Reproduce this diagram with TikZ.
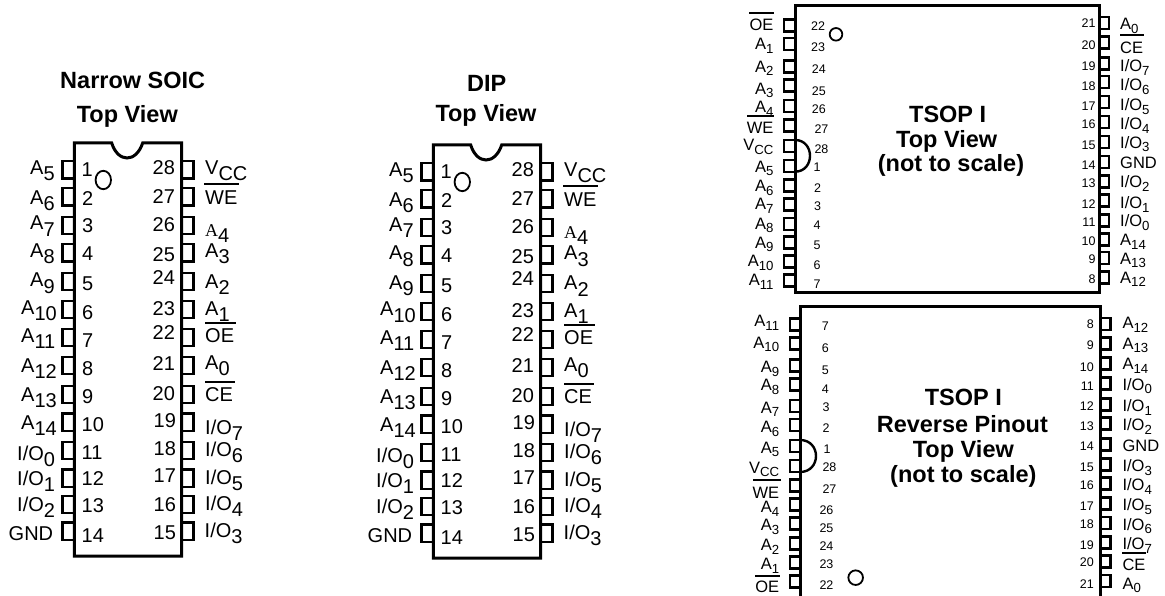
\documentclass[tikz,border=0pt]{standalone}
\usepackage{fontspec}
\setmainfont{Liberation Sans}
\newfontfamily\serifa{Liberation Serif}
\newcommand\IO{I/O}
\newcommand\lsub[1]{\raisebox{-6pt}{#1}}
\newcommand\ssub[1]{\raisebox{-3.4pt}{\fontsize{13.2}{14}\selectfont #1}}
\tikzset{
  body/.style={draw=black,line width=3pt,line join=miter},
  pinbox/.style={draw=black,line width=2.4pt},
  bar/.style={draw=black,line width=2pt},
  mark hole/.style={draw=black,line width=1.8pt},
  bigtxt/.style={inner sep=0pt,anchor=base west,font=\fontsize{20}{22}\selectfont,text=black},
  smalltxt/.style={inner sep=0pt,font=\fontsize{16.5}{18}\selectfont,text=black},
  numtxt/.style={inner sep=0pt,font=\fontsize{12.5}{14}\selectfont,text=black},
  titletxt/.style={inner sep=0pt,anchor=base,font=\bfseries\fontsize{23.5}{26}\selectfont},
}
\newcommand\chipdraw{%
  \draw[body] (74.3,143) -- (111.7,143) .. controls (118,163) and (136,163) .. (142.7,143) -- (181.5,143) -- (181.5,556) -- (74.3,556) -- cycle;
  \foreach \y in {170,197,225.5,253,281.5,309.5,337.5,365.5,394.5,422,450.5,478,504.5,531}{
    \draw[pinbox] (74,\y-8.7) -- (62.5,\y-8.7) -- (62.5,\y+8.7) -- (74,\y+8.7);
    \draw[pinbox] (181.5,\y-8.7) -- (193.5,\y-8.7) -- (193.5,\y+8.7) -- (181.5,\y+8.7);
  }
  \draw[mark hole] (103.3,180) ellipse [x radius=7.7pt,y radius=9.2pt];
  \foreach \x/\y/\t [count=\c] in {
    81.5/176.7/1,82/205.7/2,82/232.3/3,82/260.7/4,82/290.7/5,82/319/6,82/347.3/7,82/375.7/8,82/403.3/9,
    81.5/431/10,81.5/459/11,81.5/485/12,81.5/512.3/13,81.5/542.3/14,
    152.5/175/28,152.5/204/27,152.5/231.7/26,152.5/261.7/25,152.5/284/24,152.5/315/23,152.5/339.5/22,
    152.5/370.7/21,152.5/400/20,153.5/427.7/19,153.5/455/18,153.5/482.3/17,153.5/511.7/16,153.5/539.3/15}
    \node[bigtxt] (n\c) at (\x,\y) {\t};
  \foreach \x/\y/\t [count=\c] in {
    30/175/A\lsub{5},30/205/A\lsub{6},30/230/A\lsub{7},30/258/A\lsub{8},30/287/A\lsub{9},
    21/314/A\lsub{10},21/342.7/A\lsub{11},21/372/A\lsub{12},21/401/A\lsub{13},21/429/A\lsub{14},
    17/460.7/\IO\lsub{0},17/485/\IO\lsub{1},17/511.7/\IO\lsub{2},8.5/540/GND,
    205/175/V\lsub{CC},205/204.3/WE,205/236.7/{{\serifa\fontsize{18}{20}\selectfont A}\lsub{4}},205/258/A\lsub{3},205/288/A\lsub{2},205/315/A\lsub{1},
    205/342.7/OE,205/369.3/A\lsub{0},205/401/CE,205/434/\IO\lsub{7},205/456.7/\IO\lsub{6},205/484/\IO\lsub{5},205/510.7/\IO\lsub{4},204.5/537.3/\IO\lsub{3}}
    \node[bigtxt] (p\c) at (\x,\y) {\t};
  \draw[bar] (204,184) -- (239,184);
  \draw[bar] (205,322.7) -- (236,322.7);
  \draw[bar] (205,381.7) -- (235,381.7);
}
\begin{document}
\begin{tikzpicture}[x=1pt,y=-1pt]
\useasboundingbox (0,0) rectangle (1165,596);
% Narrow SOIC
\begin{scope}[name prefix=soic-]
  \node[titletxt] (t1) at (132.7,88.3) {Narrow SOIC};
  \node[titletxt] (t2) at (127.3,122.3) {Top View};
  \chipdraw
\end{scope}
% DIP
\begin{scope}[shift={(359,2)},name prefix=dip-]
  \node[titletxt] (t1) at (127.7,89.7) {DIP};
  \node[titletxt] (t2) at (127,120) {Top View};
  \chipdraw
\end{scope}
% TSOP I
\begin{scope}[shift={(720,0)},x=0.33333pt,y=-0.33333pt,name prefix=ta-]
  \draw[body] (225,17) rectangle (1137,878);
  \foreach \y in {77,132,199,256,318,376,438,498,556,613,672,727,784,841}
    \draw[pinbox] (225,\y-18) -- (192,\y-18) -- (192,\y+18) -- (225,\y+18);
  \foreach \y in {69,127,190,246,306,366,426,486,544,602,661,719,774,832}
    \draw[pinbox] (1137,\y-18) -- (1167,\y-18) -- (1167,\y+18) -- (1137,\y+18);
  \draw[body,line width=2.4pt] (225,420) .. controls (285,420) and (285,515) .. (225,515);
  \draw[mark hole] (348,103) circle [radius=6.3pt];
  \foreach \x/\y/\t [count=\c] in {
    273/93/22,273/155/23,275/222/24,275/287/25,275/340/26,283/400/27,283/460/28,
    280/515/1,282/577/2,282/632/3,280/690/4,280/748/5,280/808/6,280/865/7}
    \node[numtxt,anchor=base west] (nl\c) at (\x,\y) {\t};
  \foreach \y/\t [count=\c] in {82/21,148/20,212/19,272/18,332/17,387/16,448/15,508/14,563/13,625/12,680/11,737/10,790/9,850/8}
    \node[numtxt,anchor=base east] (nr\c) at (1127,\y) {\t};
  \foreach \y/\t [count=\c] in {
    93/OE,150/A\ssub{1},217/A\ssub{2},283/A\ssub{3},338/A\ssub{4},400/WE,452/V\ssub{CC},517/A\ssub{5},
    575/A\ssub{6},630/A\ssub{7},688/A\ssub{8},745/A\ssub{9},800/A\ssub{10},857/A\ssub{11}}
    \node[smalltxt,anchor=base east] (ll\c) at (161,\y) {\t};
  \foreach \y/\t [count=\c] in {
    90/A\ssub{0},160/CE,215/\IO\ssub{7},272/\IO\ssub{6},332/\IO\ssub{5},390/\IO\ssub{4},445/\IO\ssub{3},
    507/GND,563/\IO\ssub{2},627/\IO\ssub{1},680/\IO\ssub{0},738/A\ssub{14},793/A\ssub{13},850/A\ssub{12}}
    \node[smalltxt,anchor=base west] (lr\c) at (1200,\y) {\t};
  \draw[bar] (88,38) -- (163,38);
  \draw[bar] (82,347) -- (163,347);
  \draw[bar] (1200,106) -- (1272,106);
  \node[titletxt] (t1) at (683,368) {TSOP I};
  \node[titletxt] (t2) at (680,443) {Top View};
  \node[titletxt] (t3) at (693,515) {(not to scale)};
\end{scope}
% TSOP I reverse
\begin{scope}[shift={(720,296)},x=0.33333pt,y=-0.33333pt,name prefix=tb-]
  \draw[body] (240,905) -- (240,32) -- (1140,32) -- (1140,905);
  \foreach \y in {86,143,209,266,330,387,450,510,569,626,683,742,799,856}
    \draw[pinbox] (240,\y-18) -- (210,\y-18) -- (210,\y+18) -- (240,\y+18);
  \foreach \y in {84,142,203,263,325,382,446,506,563,622,681,739,796,855}
    \draw[pinbox] (1140,\y-18) -- (1172,\y-18) -- (1172,\y+18) -- (1140,\y+18);
  \draw[body,line width=2.4pt] (240,432) .. controls (304,432) and (304,528) .. (240,528);
  \draw[mark hole] (407,845) circle [radius=7.3pt];
  \foreach \x/\y/\t [count=\c] in {
    305/102/7,305/168/6,305/235/5,305/292/4,307/347/3,307/410/2,310/473/1,307/527/28,307/592/27,
    298/655/26,298/710/25,298/763/24,298/818/23,298/880/22}
    \node[numtxt,anchor=base west] (nl\c) at (\x,\y) {\t};
  \foreach \y/\t [count=\c] in {98/8,160/9,225/10,282/11,345/12,403/13,465/14,527/15,580/16,643/17,697/18,762/19,812/20,877/21}
    \node[numtxt,anchor=base east] (nr\c) at (1122,\y) {\t};
  \foreach \y/\t [count=\c] in {
    92/A\ssub{11},157/A\ssub{10},230/A\ssub{9},285/A\ssub{8},352/A\ssub{7},410/A\ssub{6},472/A\ssub{5},
    532/V\ssub{CC},607/WE,650/A\ssub{4},705/A\ssub{3},765/A\ssub{2},822/A\ssub{1},890/OE}
    \node[smalltxt,anchor=base east] (ll\c) at (178,\y) {\t};
  \foreach \y/\t [count=\c] in {
    98/A\ssub{12},160/A\ssub{13},222/A\ssub{14},283/\IO\ssub{0},347/\IO\ssub{1},405/\IO\ssub{2},468/GND,
    527/\IO\ssub{3},585/\IO\ssub{4},645/\IO\ssub{5},703/\IO\ssub{6},762/\IO\ssub{7},825/CE,880/A\ssub{0}}
    \node[smalltxt,anchor=base west] (lr\c) at (1207,\y) {\t};
  \draw[bar] (100,553) -- (183,553);
  \draw[bar] (105,840) -- (180,840);
  \draw[bar] (1207,771) -- (1277,771);
  \node[titletxt] (t1) at (730,330) {TSOP I};
  \node[titletxt] (t2) at (727,408) {Reverse Pinout};
  \node[titletxt] (t3) at (730,485) {Top View};
  \node[titletxt] (t4) at (730,560) {(not to scale)};
\end{scope}
\end{tikzpicture}
\end{document}
